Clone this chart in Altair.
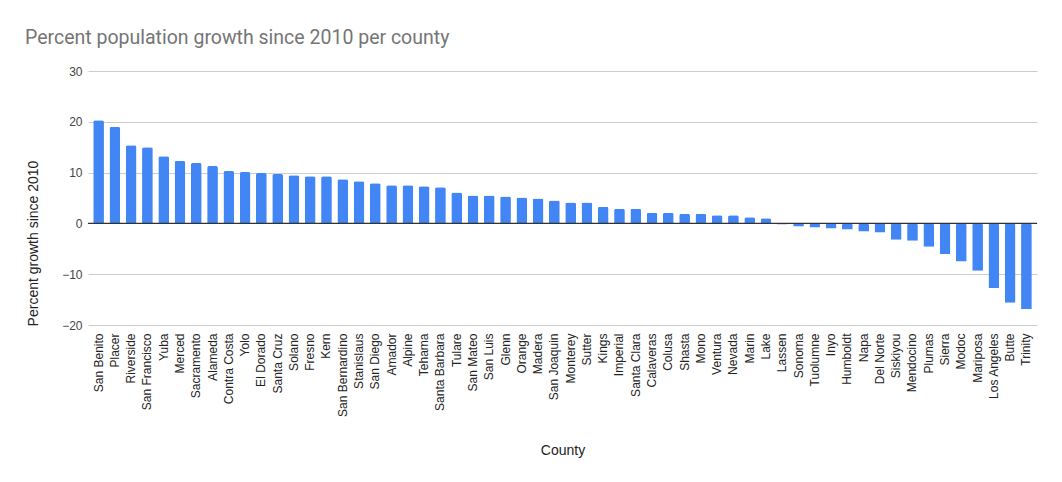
import altair as alt
import pandas as pd

counties = ["San Benito", "Placer", "Riverside", "San Francisco", "Yuba", "Merced",
            "Sacramento", "Alameda", "Contra Costa", "Yolo", "El Dorado", "Santa Cruz",
            "Solano", "Fresno", "Kern", "San Bernardino", "Stanislaus", "San Diego",
            "Amador", "Alpine", "Tehama", "Santa Barbara", "Tulare", "San Mateo",
            "San Luis", "Glenn", "Orange", "Madera", "San Joaquin", "Monterey", "Sutter",
            "Kings", "Imperial", "Santa Clara", "Calaveras", "Colusa", "Shasta", "Mono",
            "Ventura", "Nevada", "Marin", "Lake", "Lassen", "Sonoma", "Tuolumne", "Inyo",
            "Humboldt", "Napa", "Del Norte", "Siskiyou", "Mendocino", "Plumas", "Sierra",
            "Modoc", "Mariposa", "Los Angeles", "Butte", "Trinity"]
growth = [20.3, 19.0, 15.4, 15.0, 13.2, 12.3,
          11.9, 11.3, 10.3, 10.1, 9.9, 9.7,
          9.5, 9.3, 9.3, 8.7, 8.3, 7.9,
          7.5, 7.5, 7.3, 7.1, 6.1, 5.5,
          5.5, 5.3, 5.1, 4.9, 4.5, 4.1, 4.1,
          3.3, 2.9, 2.9, 2.1, 2.1, 1.9, 1.9,
          1.6, 1.6, 1.2, 1.0, -0.2, -0.6, -0.8, -1.0,
          -1.2, -1.6, -1.8, -3.2, -3.4, -4.6, -6.0,
          -7.5, -9.3, -12.7, -15.6, -16.9]
y_ticks = [-20, -10, 0, 10, 20, 30]

df = pd.DataFrame({"County": counties, "Growth": growth})

W, H = 949, 254
FONT = "Liberation Sans"

bars = alt.Chart(df).mark_bar(color="#4285F4", cornerRadiusEnd=2).encode(
    x=alt.X("County:N", sort=counties,
            scale=alt.Scale(paddingInner=0.34, paddingOuter=0.32),
            axis=alt.Axis(title="County", labelAngle=270, labelAlign="right",
                          labelBaseline="middle", labelPadding=8, ticks=False,
                          domain=False, grid=False, labelFont=FONT, labelFontSize=12,
                          labelColor="#222222", titleFont=FONT, titleFontSize=14,
                          titleFontWeight="normal", titleColor="#222222",
                          titleY=125, titleBaseline="middle", labelOverlap=False,
                          labelLimit=200)),
    y=alt.Y("Growth:Q",
            scale=alt.Scale(domain=[-20, 30], nice=False),
            axis=alt.Axis(title="Percent growth since 2010", values=y_ticks,
                          ticks=False, domain=False, gridColor="#cccccc",
                          labelPadding=6, labelFont=FONT, labelFontSize=12,
                          labelColor="#444444", titleFont=FONT, titleFontSize=14,
                          titleFontWeight="normal", titleColor="#222222",
                          titleX=-55, titleY=172, titleBaseline="middle",
                          titleAlign="center", titleAngle=270)),
)

zero = alt.Chart(pd.DataFrame({"y": [0]})).mark_rule(color="#333333", strokeWidth=1.3).encode(
    y="y:Q"
)

chart = alt.layer(bars, zero).properties(
    width=W, height=H,
    title=alt.TitleParams("Percent population growth since 2010 per county",
                          anchor="start", frame="group", dx=-63, offset=17,
                          font="Roboto", fontSize=19.5, fontWeight="normal",
                          color="#757575"),
    autosize=alt.AutoSizeParams(type="none"),
    padding={"left": 88, "top": 71, "right": 25, "bottom": 157},
).configure_view(stroke=None)

chart.save("out.html", embed_options={"renderer": "svg", "actions": False})
